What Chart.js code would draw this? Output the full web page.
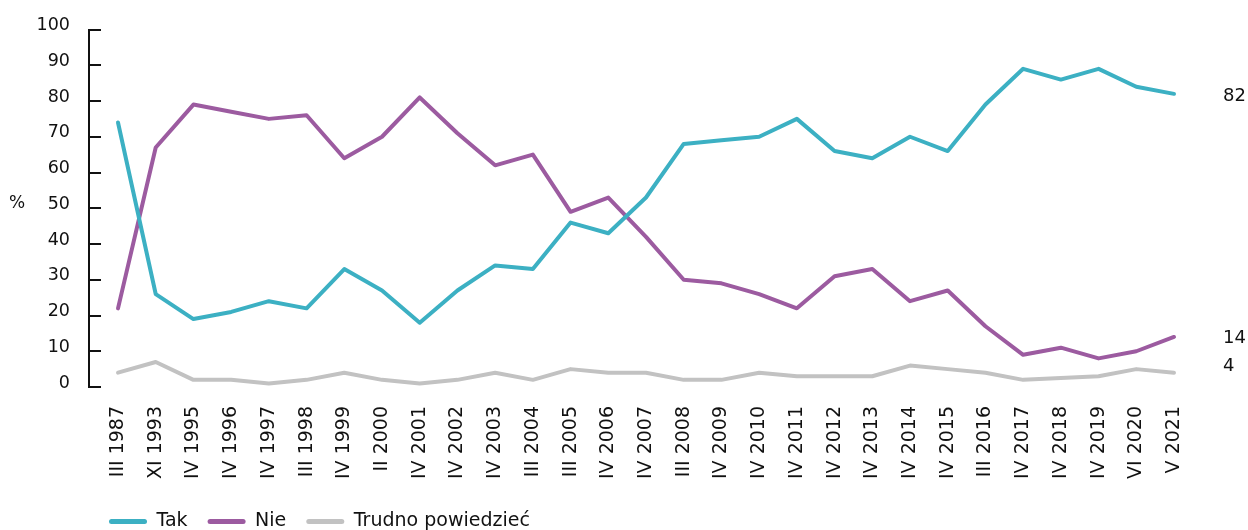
<!DOCTYPE html>
<html><head><meta charset="utf-8">
<script src="https://cdn.jsdelivr.net/npm/chart.js@4"></script>
<style>html,body{margin:0;padding:0;background:#fff;overflow:hidden}#wrap{position:relative;width:1248px;height:530px}</style>
</head><body><div id="wrap"><canvas id="c" width="1248" height="530"></canvas></div>
<script>
const categories = ['III 1987','XI 1993','IV 1995','IV 1996','IV 1997','III 1998','IV 1999','II 2000','IV 2001','IV 2002','IV 2003','III 2004','III 2005','IV 2006','IV 2007','III 2008','IV 2009','IV 2010','IV 2011','IV 2012','IV 2013','IV 2014','IV 2015','III 2016','IV 2017','IV 2018','IV 2019','VI 2020','V 2021'];
const tak    = [74,26,19,21,24,22,33,27,18,27,34,33,46,43,53,68,69,70,75,66,64,70,66,79,89,86,89,84,82];
const nie    = [22,67,79,77,75,76,64,70,81,71,62,65,49,53,42,30,29,26,22,31,33,24,27,17,9,11,8,10,14];
const trudno = [4,7,2,2,1,2,4,2,1,2,4,2,5,4,4,2,2,4,3,3,3,6,5,4,2,2.5,3,5,4];
const seriesNames = ['Tak','Nie','Trudno powiedzieć'];
const yTicks = [0,10,20,30,40,50,60,70,80,90,100];
const colors = ['#3cb0c3','#9c5ba0','#c2c2c2'];

const FONT = '"DejaVu Sans", sans-serif';
const TEXT = '#111111';
const endOffsets = [2, 1, -6];

const toPts = arr => arr.map((v, i) => ({x: i, y: v}));

const decor = {
  id: 'decor',
  afterDraw(chart) {
    const {ctx, chartArea, scales: {y}} = chart;
    ctx.save();
    ctx.strokeStyle = TEXT; ctx.lineWidth = 2;
    yTicks.forEach(v => {
      const py = Math.round(y.getPixelForValue(v));
      ctx.beginPath(); ctx.moveTo(chartArea.left, py); ctx.lineTo(chartArea.left + 12, py); ctx.stroke();
    });
    ctx.fillStyle = TEXT;
    ctx.font = '17px ' + FONT;
    ctx.textBaseline = 'middle';
    ctx.textAlign = 'center';
    ctx.fillText('%', 17, y.getPixelForValue(50) - 5);
    ctx.textAlign = 'left';
    ctx.font = '18px ' + FONT;
    chart.data.datasets.forEach((ds, i) => {
      const last = ds.data[ds.data.length - 1].y;
      ctx.fillText(String(last), 1223, y.getPixelForValue(last) + endOffsets[i]);
    });
    ctx.restore();
  }
};

new Chart(document.getElementById('c'), {
  type: 'line',
  data: {
    datasets: [tak, nie, trudno].map((arr, i) => ({
      label: seriesNames[i],
      data: toPts(arr),
      borderColor: colors[i],
      backgroundColor: colors[i],
      borderWidth: 4,
      pointRadius: 0,
      tension: 0,
      borderJoinStyle: 'round',
      borderCapStyle: 'round'
    }))
  },
  options: {
    responsive: false,
    animation: false,
    devicePixelRatio: 1,
    layout: { padding: { left: 0, right: 58, top: 27, bottom: -11 } },
    plugins: {
      tooltip: { enabled: false },
      legend: {
        position: 'bottom',
        align: 'start',
        fullSize: false,
        labels: {
          boxWidth: 38,
          boxHeight: 5,
          padding: 20,
          color: TEXT,
          font: { family: FONT, size: 19 },
          useBorderRadius: true,
          borderRadius: 2.5,
          generateLabels(chart) {
            return Chart.defaults.plugins.legend.labels.generateLabels(chart).map(l => {
              l.lineWidth = 0; l.fillStyle = l.strokeStyle; return l;
            });
          }
        }
      }
    },
    scales: {
      x: {
        type: 'linear',
        min: -0.769,
        max: 28.424,
        afterBuildTicks(scale) { scale.ticks = categories.map((_, i) => ({ value: i })); },
        afterFit(scale) { scale.height = 105; },
        grid: { display: false, drawTicks: false, tickLength: 0 },
        border: { display: false },
        ticks: {
          autoSkip: false, minRotation: 90, maxRotation: 90, padding: 19,
          color: TEXT, font: { family: FONT, size: 19 },
          callback: v => categories[v]
        }
      },
      y: {
        min: 0, max: 100,
        afterFit(scale) { scale.width = 89; },
        afterBuildTicks(scale) { scale.ticks = yTicks.map(v => ({ value: v })); },
        grid: { display: false, drawTicks: false, tickLength: 0 },
        border: { display: true, color: TEXT, width: 2 },
        ticks: { padding: 19, labelOffset: -4, color: TEXT, font: { family: FONT, size: 17.5 } }
      }
    }
  },
  plugins: [decor]
});
</script>
</body></html>
